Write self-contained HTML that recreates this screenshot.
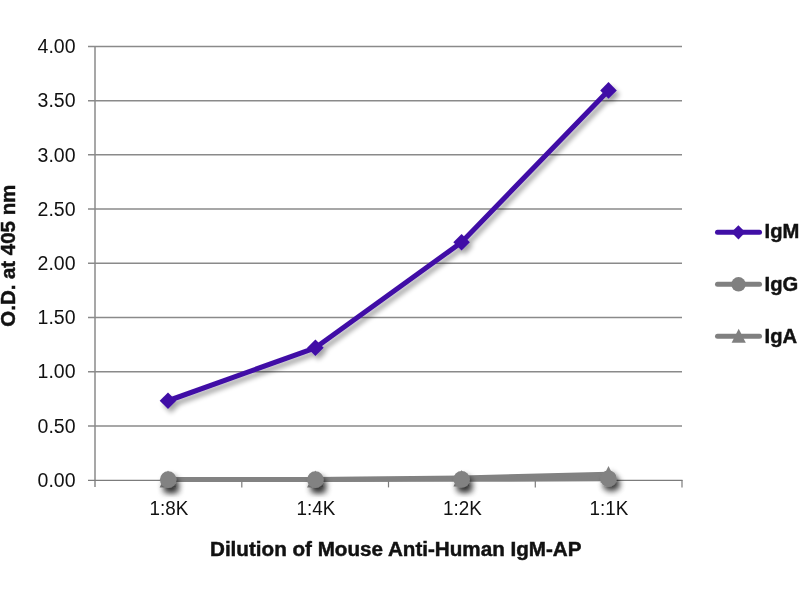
<!DOCTYPE html>
<html>
<head>
<meta charset="utf-8">
<style>
html,body{margin:0;padding:0;background:#fff;}
body{width:800px;height:600px;overflow:hidden;font-family:"Liberation Sans",sans-serif;}
svg{display:block;}
text{font-family:"Liberation Sans",sans-serif;fill:#111;}
svg{opacity:0.999;}
.yl{font-size:19.5px;text-anchor:end;}
.xl{font-size:20px;text-anchor:middle;}
.b{font-weight:bold;stroke:#111;stroke-width:0.45px;paint-order:stroke;}
</style>
</head>
<body>
<svg width="800" height="600" viewBox="0 0 800 600">
<defs>
<filter id="sh" x="-20%" y="-20%" width="140%" height="140%">
<feGaussianBlur in="SourceAlpha" stdDeviation="2.4"/>
<feOffset dx="3" dy="4" result="o"/>
<feComponentTransfer><feFuncA type="linear" slope="0.36"/></feComponentTransfer>
<feMerge><feMergeNode/><feMergeNode in="SourceGraphic"/></feMerge>
</filter>
<filter id="sh2" x="-50%" y="-50%" width="200%" height="200%">
<feGaussianBlur in="SourceAlpha" stdDeviation="3.2"/>
<feOffset dx="3.2" dy="5" result="o"/>
<feComponentTransfer><feFuncA type="linear" slope="0.6"/></feComponentTransfer>
<feMerge><feMergeNode/><feMergeNode in="SourceGraphic"/></feMerge>
</filter>
</defs>
<rect width="800" height="600" fill="#fff"/>
<!-- gridlines -->
<g stroke="#8a8a8a" stroke-width="1.5" fill="none">
<line x1="88" y1="46.4" x2="682" y2="46.4"/>
<line x1="88" y1="100.8" x2="682" y2="100.8"/>
<line x1="88" y1="154.8" x2="682" y2="154.8"/>
<line x1="88" y1="209" x2="682" y2="209"/>
<line x1="88" y1="263.3" x2="682" y2="263.3"/>
<line x1="88" y1="317.5" x2="682" y2="317.5"/>
<line x1="88" y1="371.7" x2="682" y2="371.7"/>
<line x1="88" y1="425.9" x2="682" y2="425.9"/>
<line x1="95" y1="46" x2="95" y2="487"/>
</g>
<g stroke="#7c7c7c" stroke-width="1.2" fill="none">
<line x1="88" y1="480.4" x2="682.5" y2="480.4"/>
<line x1="241.8" y1="480" x2="241.8" y2="487.4"/>
<line x1="388.5" y1="480" x2="388.5" y2="487.4"/>
<line x1="535.3" y1="480" x2="535.3" y2="487.4"/>
<line x1="682" y1="480" x2="682" y2="487.4"/>
</g>
<!-- y labels -->
<g class="yl">
<text x="75.5" y="53.2">4.00</text>
<text x="75.5" y="107.4">3.50</text>
<text x="75.5" y="161.6">3.00</text>
<text x="75.5" y="215.8">2.50</text>
<text x="75.5" y="270">2.00</text>
<text x="75.5" y="324.2">1.50</text>
<text x="75.5" y="378.4">1.00</text>
<text x="75.5" y="432.6">0.50</text>
<text x="75.5" y="486.8">0.00</text>
</g>
<!-- x labels -->
<g class="xl">
<text x="169" y="515" textLength="38.8" lengthAdjust="spacingAndGlyphs">1:8K</text>
<text x="316" y="515" textLength="38.8" lengthAdjust="spacingAndGlyphs">1:4K</text>
<text x="462.5" y="515" textLength="38.8" lengthAdjust="spacingAndGlyphs">1:2K</text>
<text x="609" y="515" textLength="38.8" lengthAdjust="spacingAndGlyphs">1:1K</text>
</g>
<text class="b" x="210" y="555.5" font-size="19.6" textLength="371.5" lengthAdjust="spacingAndGlyphs">Dilution of Mouse Anti-Human IgM-AP</text>
<text class="b" font-size="19.6" text-anchor="middle" transform="translate(15.3,255.7) rotate(-90)" textLength="142" lengthAdjust="spacingAndGlyphs">O.D. at 405 nm</text>
<!-- gray lines (no visible shadow) -->
<g fill="none" stroke="#828282" stroke-width="5" stroke-linejoin="round" stroke-linecap="butt">
<polyline points="168,479.45 315.4,479.45 461.6,478 608.5,474.2"/>
<polyline points="168,479.45 315.4,479.45 461.6,479.3 608.5,478.8"/>
</g>
<!-- IgA (triangle) markers -->
<g filter="url(#sh2)" fill="#828282">
<path d="M168,470.4 l8.4,17 h-16.8z"/>
<path d="M315.4,470.4 l8.4,17 h-16.8z"/>
<path d="M461.6,470 l8.2,16.4 h-16.4z"/>
<path d="M608.5,466 l8.2,16.4 h-16.4z"/>
</g>
<!-- IgG (circle) markers -->
<g filter="url(#sh2)" fill="#828282">
<circle cx="168.2" cy="479.6" r="8.3"/>
<circle cx="315.4" cy="479.6" r="8.3"/>
<circle cx="461.6" cy="479.3" r="8.3"/>
<circle cx="608.5" cy="478.7" r="8.3"/>
</g>
<!-- IgM -->
<g filter="url(#sh)" fill="#400fa6" stroke="#400fa6">
<polyline points="168,400.75 315.4,347.8 461.6,242.3 608.5,90.4" fill="none" stroke-width="5.1" stroke-linejoin="round" stroke-linecap="round"/>
<g stroke="none">
<path d="M168,392.45 l8.3,8.3 -8.3,8.3 -8.3,-8.3z"/>
<path d="M315.4,339.5 l8.3,8.3 -8.3,8.3 -8.3,-8.3z"/>
<path d="M461.6,234 l8.3,8.3 -8.3,8.3 -8.3,-8.3z"/>
<path d="M608.5,82.1 l8.3,8.3 -8.3,8.3 -8.3,-8.3z"/>
</g>
</g>
<!-- legend -->
<g>
<line x1="717.5" y1="232.3" x2="759.5" y2="232.3" stroke="#400fa6" stroke-width="5" stroke-linecap="round"/>
<path d="M738.4,225.2 l7,7.1 -7,7.1 -7,-7.1z" fill="#400fa6"/>
<text class="b" x="764.6" y="238.3" font-size="20.2">IgM</text>
<line x1="717.5" y1="284.3" x2="759.5" y2="284.3" stroke="#808080" stroke-width="5" stroke-linecap="round"/>
<circle cx="738.5" cy="284.3" r="7.2" fill="#808080"/>
<text class="b" x="764.6" y="290.5" font-size="20.2">IgG</text>
<line x1="717.5" y1="336.3" x2="759.5" y2="336.3" stroke="#808080" stroke-width="5" stroke-linecap="round"/>
<path d="M738.7,328.8 l7.1,14 h-14.2z" fill="#808080"/>
<text class="b" x="764.6" y="342.5" font-size="20.2">IgA</text>
</g>
</svg>
</body>
</html>
